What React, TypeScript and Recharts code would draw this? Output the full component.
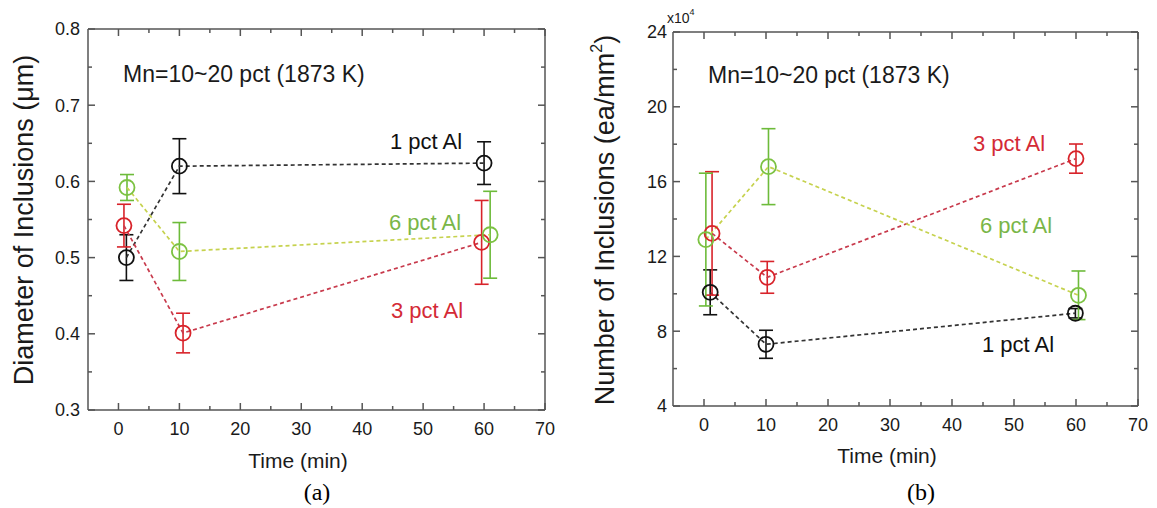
import { LineChart, Line, XAxis, YAxis, ErrorBar } from "recharts";

const FONT = "'Liberation Sans', Arial, Helvetica, sans-serif";
const AXIS = "#555";

// shared axis ticks
const timeTicks = [0, 5, 10, 15, 20, 25, 30, 35, 40, 45, 50, 55, 60, 65, 70];
const diamTicks = [0.3, 0.35, 0.4, 0.45, 0.5, 0.55, 0.6, 0.65, 0.7, 0.75, 0.8];
const countTicks = [4, 6, 8, 10, 12, 14, 16, 18, 20, 22, 24];

// (a) diameter of inclusions, um
const diamTime1 = [1.3, 10, 60];
const diamVal1 = [0.5, 0.62, 0.624];
const diamErr1 = [0.03, 0.036, 0.028];
const diamTime3 = [0.9, 10.6, 59.6];
const diamVal3 = [0.542, 0.401, 0.52];
const diamErr3 = [0.028, 0.026, 0.055];
const diamTime6 = [1.4, 10, 61];
const diamVal6 = [0.592, 0.508, 0.53];
const diamErr6 = [0.017, 0.038, 0.057];

// (b) number of inclusions, x10^4 ea/mm2
const countTime1 = [1, 10, 59.9];
const countVal1 = [10.08, 7.3, 8.96];
const countErr1 = [1.2, 0.75, 0.25];
const countTime3 = [1.3, 10.2, 60];
const countVal3 = [13.23, 10.88, 17.23];
const countErr3 = [3.3, 0.85, 0.78];
const countTime6 = [0.3, 10.4, 60.4];
const countVal6 = [12.9, 16.8, 9.92];
const countErr6 = [3.55, 2.03, 1.3];

const BLACK = { dot: "#111", line: "#333", bar: "#111" };
const RED = { dot: "#d8232a", line: "#c83a4c", bar: "#d8232a" };
const GREEN = { dot: "#7cc242", line: "#c6d24e", bar: "#6dbb3a" };

const rows = (t: number[], v: number[], e: number[]) =>
  t.map((x, i) => ({ t: x, v: v[i], e: e[i] }));

const diamSeries = [
  { name: "1 pct Al", c: BLACK, data: rows(diamTime1, diamVal1, diamErr1) },
  { name: "3 pct Al", c: RED, data: rows(diamTime3, diamVal3, diamErr3) },
  { name: "6 pct Al", c: GREEN, data: rows(diamTime6, diamVal6, diamErr6) },
];
const countSeries = [
  { name: "1 pct Al", c: BLACK, data: rows(countTime1, countVal1, countErr1) },
  { name: "3 pct Al", c: RED, data: rows(countTime3, countVal3, countErr3) },
  { name: "6 pct Al", c: GREEN, data: rows(countTime6, countVal6, countErr6) },
];

const isMajorTime = (v: number) => v % 10 === 0;

function BottomTick(props: any) {
  const { x, y, payload } = props;
  const v = payload.value;
  const major = isMajorTime(v);
  return (
    <g>
      <line x1={x} x2={x} y1={y} y2={y - (major ? 7 : 4)} stroke={AXIS} strokeWidth={1.5} />
      {major && (
        <text x={x} y={y + 25} textAnchor="middle" fontSize={18} fill="#1a1a1a" fontFamily={FONT}>
          {v}
        </text>
      )}
    </g>
  );
}

function TopTick(props: any) {
  const { x, y, payload } = props;
  const major = isMajorTime(payload.value);
  return <line x1={x} x2={x} y1={y} y2={y + (major ? 7 : 4)} stroke={AXIS} strokeWidth={1.5} />;
}

const makeLeftTick = (isMajor: (v: number) => boolean, fmt: (v: number) => string, gap: number) =>
  function LeftTick(props: any) {
    const { x, y, payload } = props;
    const v = payload.value;
    const major = isMajor(v);
    return (
      <g>
        <line x1={x} x2={x + (major ? 7 : 4)} y1={y} y2={y} stroke={AXIS} strokeWidth={1.5} />
        {major && (
          <text x={x - gap} y={y} dy="0.36em" textAnchor="end" fontSize={18} fill="#1a1a1a" fontFamily={FONT}>
            {fmt(v)}
          </text>
        )}
      </g>
    );
  };

const makeRightTick = (isMajor: (v: number) => boolean) =>
  function RightTick(props: any) {
    const { x, y, payload } = props;
    const major = isMajor(payload.value);
    return <line x1={x} x2={x - (major ? 7 : 4)} y1={y} y2={y} stroke={AXIS} strokeWidth={1.5} />;
  };

const diamMajor = (v: number) => Math.abs(v * 10 - Math.round(v * 10)) < 1e-6;
const countMajor = (v: number) => v % 4 === 0;

function HollowDot(color: string) {
  return (p: any) =>
    p.cx == null ? null : (
      <circle key={p.index} cx={p.cx} cy={p.cy} r={7.5} fill="none" stroke={color} strokeWidth={1.8} />
    );
}

function Panel({ width, yAxisWidth, margin, yDomain, yTicks, yMajor, yFmt, gap, series }: any) {
  const LeftTick = makeLeftTick(yMajor, yFmt, gap);
  const RightTick = makeRightTick(yMajor);
  return (
    <LineChart width={width} height={508} margin={margin}>
      <XAxis
        xAxisId="b"
        type="number"
        dataKey="t"
        domain={[-5, 70]}
        ticks={timeTicks}
        interval={0}
        allowDataOverflow
        height={30}
        tickSize={0}
        tickMargin={0}
        tickLine={false}
        tick={<BottomTick />}
        axisLine={{ stroke: AXIS, strokeWidth: 1.5 }}
      />
      <XAxis
        xAxisId="t"
        orientation="top"
        type="number"
        dataKey="t"
        domain={[-5, 70]}
        ticks={timeTicks}
        interval={0}
        allowDataOverflow
        height={5}
        tickSize={0}
        tickMargin={0}
        tickLine={false}
        tick={<TopTick />}
        axisLine={{ stroke: AXIS, strokeWidth: 1.5 }}
      />
      <YAxis
        yAxisId="l"
        type="number"
        domain={yDomain}
        ticks={yTicks}
        interval={0}
        allowDataOverflow
        width={yAxisWidth}
        tickSize={0}
        tickMargin={0}
        tickLine={false}
        tick={<LeftTick />}
        axisLine={{ stroke: AXIS, strokeWidth: 1.5 }}
      />
      <YAxis
        yAxisId="r"
        orientation="right"
        type="number"
        domain={yDomain}
        ticks={yTicks}
        interval={0}
        allowDataOverflow
        width={5}
        tickSize={0}
        tickMargin={0}
        tickLine={false}
        tick={<RightTick />}
        axisLine={{ stroke: AXIS, strokeWidth: 1.5 }}
      />
      {series.map((s: any) => (
        <Line
          key={s.name}
          name={s.name}
          data={s.data}
          dataKey="v"
          xAxisId="b"
          yAxisId="l"
          stroke={s.c.line}
          strokeWidth={1.7}
          strokeDasharray="4 3"
          dot={HollowDot(s.c.dot)}
          activeDot={false}
          isAnimationActive={false}
        >
          <ErrorBar dataKey="e" direction="y" width={7} stroke={s.c.bar} strokeWidth={1.6} />
        </Line>
      ))}
    </LineChart>
  );
}

const T = (props: any) => <text fontFamily={FONT} {...props} />;

export default function App() {
  return (
    <div style={{ position: "absolute", left: 0, top: 0, width: 1157, height: 508, background: "#fff" }}>
      <div style={{ position: "absolute", left: 0, top: 0 }}>
        <Panel
          width={560}
          yAxisWidth={88}
          margin={{ top: 24, right: 10, bottom: 68, left: 0 }}
          yDomain={[0.3, 0.8]}
          yTicks={diamTicks}
          yMajor={diamMajor}
          yFmt={(v: number) => v.toFixed(1)}
          gap={8}
          series={diamSeries}
        />
      </div>
      <div style={{ position: "absolute", left: 580, top: 0 }}>
        <Panel
          width={577}
          yAxisWidth={93}
          margin={{ top: 27, right: 14, bottom: 72, left: 0 }}
          yDomain={[4, 24]}
          yTicks={countTicks}
          yMajor={countMajor}
          yFmt={(v: number) => String(v)}
          gap={6}
          series={countSeries}
        />
      </div>
      <svg width={1157} height={508} style={{ position: "absolute", left: 0, top: 0, pointerEvents: "none" }}>
        {/* panel (a) */}
        <T x={123} y={82} fontSize={23} fill="#1a1a1a">Mn=10~20 pct (1873 K)</T>
        <T x={390} y={149} fontSize={22} fill="#111">1 pct Al</T>
        <T x={389} y={230} fontSize={22} fill="#7ab648">6 pct Al</T>
        <T x={391} y={318} fontSize={22} fill="#d42a36">3 pct Al</T>
        <T x={298} y={468} fontSize={21} fill="#1a1a1a" textAnchor="middle">Time (min)</T>
        <T x={0} y={0} fontSize={27} fill="#1a1a1a" textAnchor="middle" dominantBaseline="central"
          transform="translate(24 220) rotate(-90)">Diameter of Inclusions (μm)</T>
        <text x={317} y={500} fontSize={24} fontFamily="'Liberation Serif', 'Times New Roman', serif" textAnchor="middle" fill="#000">(a)</text>

        {/* panel (b) */}
        <T x={708} y={83} fontSize={23} fill="#1a1a1a">Mn=10~20 pct (1873 K)</T>
        <T x={973} y={151} fontSize={22} fill="#d42a36">3 pct Al</T>
        <T x={980} y={233} fontSize={22} fill="#7ab648">6 pct Al</T>
        <T x={982} y={352} fontSize={22} fill="#111">1 pct Al</T>
        <T x={887} y={463} fontSize={21} fill="#1a1a1a" textAnchor="middle">Time (min)</T>
        <T x={0} y={0} fontSize={27} fill="#1a1a1a" textAnchor="middle" dominantBaseline="central"
          transform="translate(605 220) rotate(-90)">
          Number of Inclusions (ea/mm<tspan fontSize={16} dy={-9}>2</tspan><tspan dy={9}>)</tspan>
        </T>
        <T x={667} y={23} fontSize={14} fill="#1a1a1a">x10<tspan fontSize={9} dy={-8}>4</tspan></T>
        <text x={921} y={500} fontSize={24} fontFamily="'Liberation Serif', 'Times New Roman', serif" textAnchor="middle" fill="#000">(b)</text>
      </svg>
    </div>
  );
}
